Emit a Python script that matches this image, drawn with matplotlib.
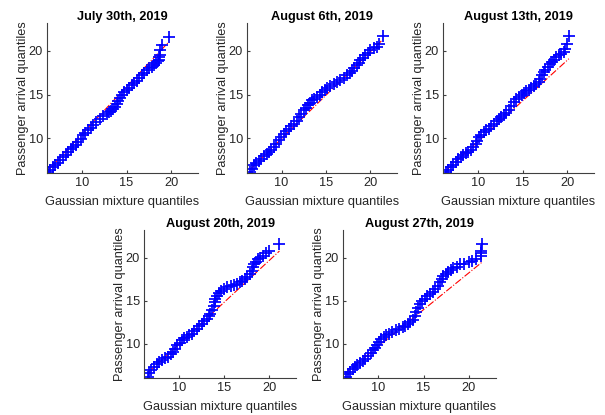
import matplotlib
matplotlib.use('Agg')
import matplotlib.pyplot as plt

plt.rcParams['font.family'] = ['Liberation Sans', 'DejaVu Sans']

# QQ plot points (Gaussian mixture quantile, passenger arrival quantile)
jul30_x = [6.2, 6.45, 6.78, 7.05, 7.34, 7.6, 7.9, 8.2, 8.46, 8.75,
           9.03, 9.3, 9.59, 9.85, 10.15, 10.4, 10.7, 11.0, 11.27, 11.6,
           12.0, 12.4, 12.77, 13.05, 13.3, 13.5, 13.7, 13.9, 14.1, 14.3,
           14.46, 14.75, 15.0, 15.3, 15.58, 15.85, 16.14, 16.4, 16.7, 17.0,
           17.27, 17.55, 17.8, 18.05, 18.3, 18.5, 18.58, 18.65, 18.7, 18.76,
           19.0, 19.7]
jul30_y = [6.1, 6.4, 6.67, 6.9, 7.16, 7.5, 7.8, 8.1, 8.39, 8.7,
           8.97, 9.25, 9.54, 9.9, 10.3, 10.6, 10.9, 11.2, 11.46, 11.8,
           12.2, 12.5, 12.8, 12.95, 13.07, 13.3, 13.56, 13.9, 14.3, 14.6,
           14.9, 15.25, 15.56, 15.8, 16.05, 16.3, 16.6, 16.9, 17.2, 17.5,
           17.78, 18.0, 18.2, 18.4, 18.6, 18.8, 19.0, 19.25, 19.5, 20.08,
           20.65, 21.6]

aug06_x = [6.44, 6.65, 6.9, 7.15, 7.45, 7.7, 8.0, 8.3, 8.58, 8.85,
           9.14, 9.4, 9.7, 9.98, 10.26, 10.55, 10.8, 11.1, 11.4, 11.7,
           11.95, 12.2, 12.5, 12.75, 12.96, 13.2, 13.45, 13.7, 14.0, 14.3,
           14.57, 14.85, 15.13, 15.5, 15.88, 16.25, 16.63, 17.0, 17.38, 17.65,
           17.94, 18.2, 18.5, 18.7, 18.88, 19.15, 19.44, 19.7, 20.0, 20.4,
           20.75, 20.94, 21.4]
aug06_y = [6.1, 6.5, 6.86, 7.15, 7.43, 7.65, 7.9, 8.15, 8.39, 8.68,
           8.97, 9.35, 9.73, 10.1, 10.5, 10.8, 11.07, 11.35, 11.65, 12.0,
           12.4, 12.8, 13.18, 13.45, 13.75, 14.05, 14.33, 14.5, 14.7, 15.0,
           15.29, 15.55, 15.79, 16.0, 16.25, 16.45, 16.63, 16.9, 17.2, 17.45,
           17.7, 18.0, 18.35, 18.65, 18.93, 19.2, 19.5, 19.8, 20.08, 20.3,
           20.46, 20.84, 21.7]

aug13_x = [6.46, 6.7, 6.94, 7.2, 7.5, 7.8, 8.06, 8.35, 8.62, 8.9,
           9.18, 9.45, 9.74, 9.9, 10.1, 10.4, 10.67, 10.95, 11.23, 11.5,
           11.8, 12.1, 12.35, 12.6, 12.9, 13.2, 13.47, 13.7, 14.0, 14.3,
           14.6, 14.9, 15.15, 15.4, 15.7, 16.0, 16.27, 16.55, 16.83, 17.0,
           17.2, 17.4, 17.57, 17.85, 18.13, 18.3, 18.5, 18.8, 19.07, 19.35,
           19.63, 19.81, 20.0, 20.19]
aug13_y = [6.1, 6.4, 6.67, 6.95, 7.24, 7.55, 7.82, 8.05, 8.28, 8.45,
           8.66, 9.0, 9.35, 9.7, 10.1, 10.4, 10.7, 10.9, 11.07, 11.35,
           11.65, 11.95, 12.2, 12.4, 12.6, 12.9, 13.18, 13.65, 14.14, 14.45,
           14.7, 14.95, 15.17, 15.35, 15.56, 15.75, 15.94, 16.2, 16.44, 16.8,
           17.2, 17.55, 17.85, 18.2, 18.54, 18.75, 19.0, 19.25, 19.5, 19.7,
           19.9, 20.27, 20.84, 21.69]

aug20_x = [6.55, 6.7, 6.93, 7.2, 7.49, 7.75, 8.05, 8.4, 8.8, 9.1,
           9.36, 9.6, 9.81, 10.05, 10.3, 10.6, 10.86, 11.15, 11.42, 11.7,
           11.98, 12.25, 12.55, 12.8, 13.1, 13.3, 13.48, 13.7, 13.86, 13.95,
           14.04, 14.2, 14.42, 14.7, 14.98, 15.35, 15.73, 16.1, 16.48, 16.75,
           17.04, 17.3, 17.6, 17.9, 18.16, 18.25, 18.35, 18.55, 18.73, 19.0,
           19.29, 19.7, 20.04, 21.1]
aug20_y = [6.15, 6.55, 6.92, 7.3, 7.58, 7.85, 8.08, 8.28, 8.46, 8.75,
           9.04, 9.4, 9.8, 10.1, 10.38, 10.6, 10.77, 10.95, 11.15, 11.45,
           11.73, 12.0, 12.3, 12.6, 12.88, 13.15, 13.46, 13.9, 14.42, 14.8,
           15.2, 15.55, 15.88, 16.1, 16.35, 16.55, 16.73, 16.8, 16.92, 17.1,
           17.3, 17.5, 17.7, 18.1, 18.46, 18.85, 19.23, 19.5, 19.8, 20.0,
           20.2, 20.5, 20.77, 21.6]

aug27_x = [6.4, 6.65, 6.9, 7.15, 7.45, 7.7, 8.0, 8.3, 8.58, 8.85,
           9.14, 9.4, 9.63, 9.85, 10.07, 10.35, 10.64, 10.9, 11.2, 11.55,
           11.95, 12.3, 12.7, 13.0, 13.26, 13.55, 13.82, 14.0, 14.2, 14.4,
           14.57, 14.85, 15.13, 15.4, 15.7, 16.0, 16.25, 16.55, 16.82, 17.0,
           17.2, 17.45, 17.75, 18.0, 18.3, 18.65, 19.0, 19.5, 20.0, 20.4,
           20.75, 21.3, 21.3, 21.35, 21.5]
aug27_y = [6.15, 6.45, 6.73, 7.0, 7.3, 7.55, 7.77, 7.98, 8.19, 8.5,
           8.85, 9.2, 9.5, 9.85, 10.19, 10.5, 10.77, 10.95, 11.15, 11.35,
           11.54, 11.72, 11.92, 12.1, 12.3, 12.5, 12.77, 13.2, 13.65, 14.1,
           14.6, 14.9, 15.2, 15.5, 15.77, 16.05, 16.35, 16.7, 17.1, 17.5,
           17.88, 18.1, 18.35, 18.55, 18.73, 18.95, 19.23, 19.3, 19.5, 19.6,
           19.8, 20.2, 20.5, 20.77, 21.6]

# reference lines (end points)
ref_x = [[6.2, 19.7], [6.44, 21.4], [6.46, 20.19], [6.55, 21.16], [6.4, 21.5]]
ref_y = [[6.3, 21.0], [6.4, 21.3], [6.3, 19.1], [6.6, 20.76], [6.6, 19.5]]

titles = ['July 30th, 2019', 'August 6th, 2019', 'August 13th, 2019',
          'August 20th, 2019', 'August 27th, 2019']
xs = [jul30_x, aug06_x, aug13_x, aug20_x, aug27_x]
ys = [jul30_y, aug06_y, aug13_y, aug20_y, aug27_y]

W, H = 605, 415
# axes boxes in pixels: left, top, right, bottom
boxes = [(47, 23, 198, 173), (247, 23, 397, 173), (443, 23, 594, 173),
         (144, 230, 296, 378), (343, 230, 496, 378)]

fig = plt.figure(figsize=(W / 100, H / 100), dpi=100)
axis_col = '#404040'
text_col = '#262626'

for i in range(5):
    l, t, r, b = boxes[i]
    ax = fig.add_axes([l / W, 1 - b / H, (r - l) / W, (b - t) / H])
    ax.plot(ref_x[i], ref_y[i], color='red', linestyle='-.', linewidth=0.8, zorder=1)
    ax.plot(xs[i], ys[i], linestyle='none', marker='+', color='blue',
            markersize=8.5, markeredgewidth=1.25, zorder=2)
    ax.set_xlim(6.1, 23.0)
    ax.set_ylim(6.0, 23.2)
    ax.set_xticks([10, 15, 20])
    ax.set_yticks([10, 15, 20])
    for s in ['top', 'right']:
        ax.spines[s].set_visible(False)
    for s in ['left', 'bottom']:
        ax.spines[s].set_color(axis_col)
        ax.spines[s].set_linewidth(0.8)
    ax.tick_params(direction='in', length=2, width=0.8, color=axis_col,
                   labelsize=9.2, labelcolor=text_col, pad=3)
    ax.set_title(titles[i], fontsize=9.2, fontweight='bold', color='black', pad=2.5)
    ax.set_xlabel('Gaussian mixture quantiles', fontsize=9.2, color=text_col, labelpad=5)
    ax.set_ylabel('Passenger arrival quantiles', fontsize=9.2, color=text_col, labelpad=0)

fig.savefig('out.png', dpi=100)
